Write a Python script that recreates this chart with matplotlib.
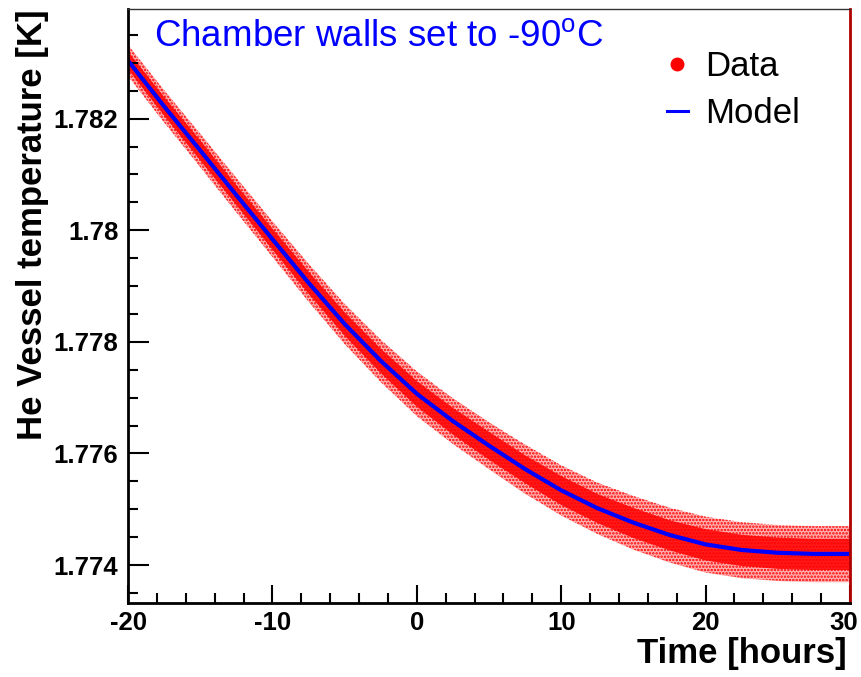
import matplotlib.pyplot as plt
from matplotlib.lines import Line2D
from matplotlib.ticker import FuncFormatter, MultipleLocator
from matplotlib.transforms import ScaledTranslation

OUTPUT_PATH = "out.png"

# every 2.5 hours
HOURS = [-20, -17.5, -15, -12.5, -10, -7.5, -5, -2.5, 0, 2.5, 5,
         7.5, 10, 12.5, 15, 17.5, 20, 22.5, 25, 27.5, 30]
MODEL_K = [1.78304, 1.78222, 1.78143, 1.78063, 1.77984, 1.77906, 1.77832,
           1.77766, 1.77707, 1.77658, 1.77614, 1.77572, 1.77534, 1.77502,
           1.77476, 1.77454, 1.77437, 1.77427, 1.77422, 1.77420, 1.77420]
# half width of the dense core of the data cloud, and of its outliers
DATA_CORE_HW = [0.00016, 0.00017, 0.00018, 0.00018, 0.00019, 0.00020, 0.00021,
                0.00022, 0.00023, 0.00024, 0.00025, 0.00025, 0.00026, 0.00026,
                0.00027, 0.00027, 0.00028, 0.00028, 0.00028, 0.00028, 0.00028]
DATA_OUTER_HW = [0.00028, 0.00029, 0.00030, 0.00031, 0.00032, 0.00034, 0.00036,
                 0.00038, 0.00040, 0.00041, 0.00042, 0.00044, 0.00045, 0.00046,
                 0.00048, 0.00049, 0.00050, 0.00050, 0.00050, 0.00050, 0.00050]

X_RANGE = (-20, 30)
X_MAJOR = [-20, -10, 0, 10, 20, 30]
Y_RANGE = (1.77332, 1.78396)
Y_MAJOR = [1.774, 1.776, 1.778, 1.780, 1.782]

plt.rcParams["font.family"] = ["Liberation Sans", "DejaVu Sans"]
plt.rcParams["mathtext.fontset"] = "custom"
plt.rcParams["mathtext.rm"] = "Liberation Sans"
plt.rcParams["axes.unicode_minus"] = False
plt.rcParams["hatch.linewidth"] = 1.2


def band(values, widths, sign):
    return [v + sign * w for v, w in zip(values, widths)]


def main():
    fig = plt.figure(figsize=(8.61, 6.77), dpi=100)
    ax = fig.add_axes([0.1487, 0.1093, 0.8385, 0.877])

    lower_outer = band(MODEL_K, DATA_OUTER_HW, -1)
    upper_outer = band(MODEL_K, DATA_OUTER_HW, 1)
    ax.fill_between(HOURS, lower_outer, upper_outer, color="red", alpha=0.3, linewidth=0)
    ax.fill_between(HOURS, lower_outer, upper_outer,
                    facecolor="none", edgecolor="red", hatch=".....", linewidth=0)
    ax.fill_between(HOURS, band(MODEL_K, DATA_CORE_HW, -1), band(MODEL_K, DATA_CORE_HW, 1),
                    color="red", alpha=0.85, linewidth=0)
    ax.plot(HOURS, MODEL_K, color="#0000ff", linewidth=3.0, solid_capstyle="butt")

    ax.set_xlim(*X_RANGE)
    ax.set_ylim(*Y_RANGE)
    ax.set_xticks(X_MAJOR)
    ax.xaxis.set_minor_locator(MultipleLocator(2))
    ax.set_yticks(Y_MAJOR)
    ax.yaxis.set_minor_locator(MultipleLocator(0.0005))
    ax.yaxis.set_major_formatter(FuncFormatter(lambda v, _: f"{v:g}"))

    ax.tick_params(which="both", direction="in", top=False, right=False, width=1.5,
                   labelsize=18.5)
    ax.tick_params(axis="x", which="major", length=13, pad=6)
    ax.tick_params(axis="x", which="minor", length=7)
    ax.tick_params(axis="y", which="major", length=15, pad=7)
    ax.tick_params(axis="y", which="minor", length=7)
    for label in ax.get_xticklabels() + ax.get_yticklabels():
        label.set_fontweight("bold")

    # keep the last x label inside the canvas, as ROOT does
    last = ax.xaxis.get_major_ticks()[-1].label1
    last.set_horizontalalignment("right")
    last.set_transform(last.get_transform() + ScaledTranslation(0.08, 0, fig.dpi_scale_trans))

    ax.spines["left"].set_linewidth(2)
    ax.spines["bottom"].set_linewidth(2)
    ax.spines["top"].set_linewidth(1)
    ax.spines["top"].set_color("#333333")
    ax.spines["right"].set_linewidth(2)
    ax.spines["right"].set_color("#b00000")

    ax.set_xlabel("Time [hours]", fontsize=25, fontweight="bold", loc="right")
    ax.xaxis.set_label_coords(0.995, -0.058)
    ax.set_ylabel("He Vessel temperature [K]", fontsize=25, fontweight="bold", loc="top")
    ax.yaxis.set_label_coords(-0.11, 1.0)

    ax.text(0.036, 0.953, r"Chamber walls set to -90$^{\rm o}$C", transform=ax.transAxes,
            fontsize=26.5, color="#0000ff", ha="left", va="center")

    handles = [
        Line2D([], [], linestyle="none", marker="o", markersize=9, color="red"),
        Line2D([], [], color="#0000ff", linewidth=2.2),
    ]
    ax.legend(handles, ["Data", "Model"], loc="upper right", bbox_to_anchor=(0.95, 0.955),
              frameon=False, fontsize=25, handlelength=0.6, handletextpad=0.5,
              labelspacing=0.42, borderaxespad=0)

    fig.savefig(OUTPUT_PATH, dpi=100)
    plt.close(fig)


if __name__ == "__main__":
    main()
